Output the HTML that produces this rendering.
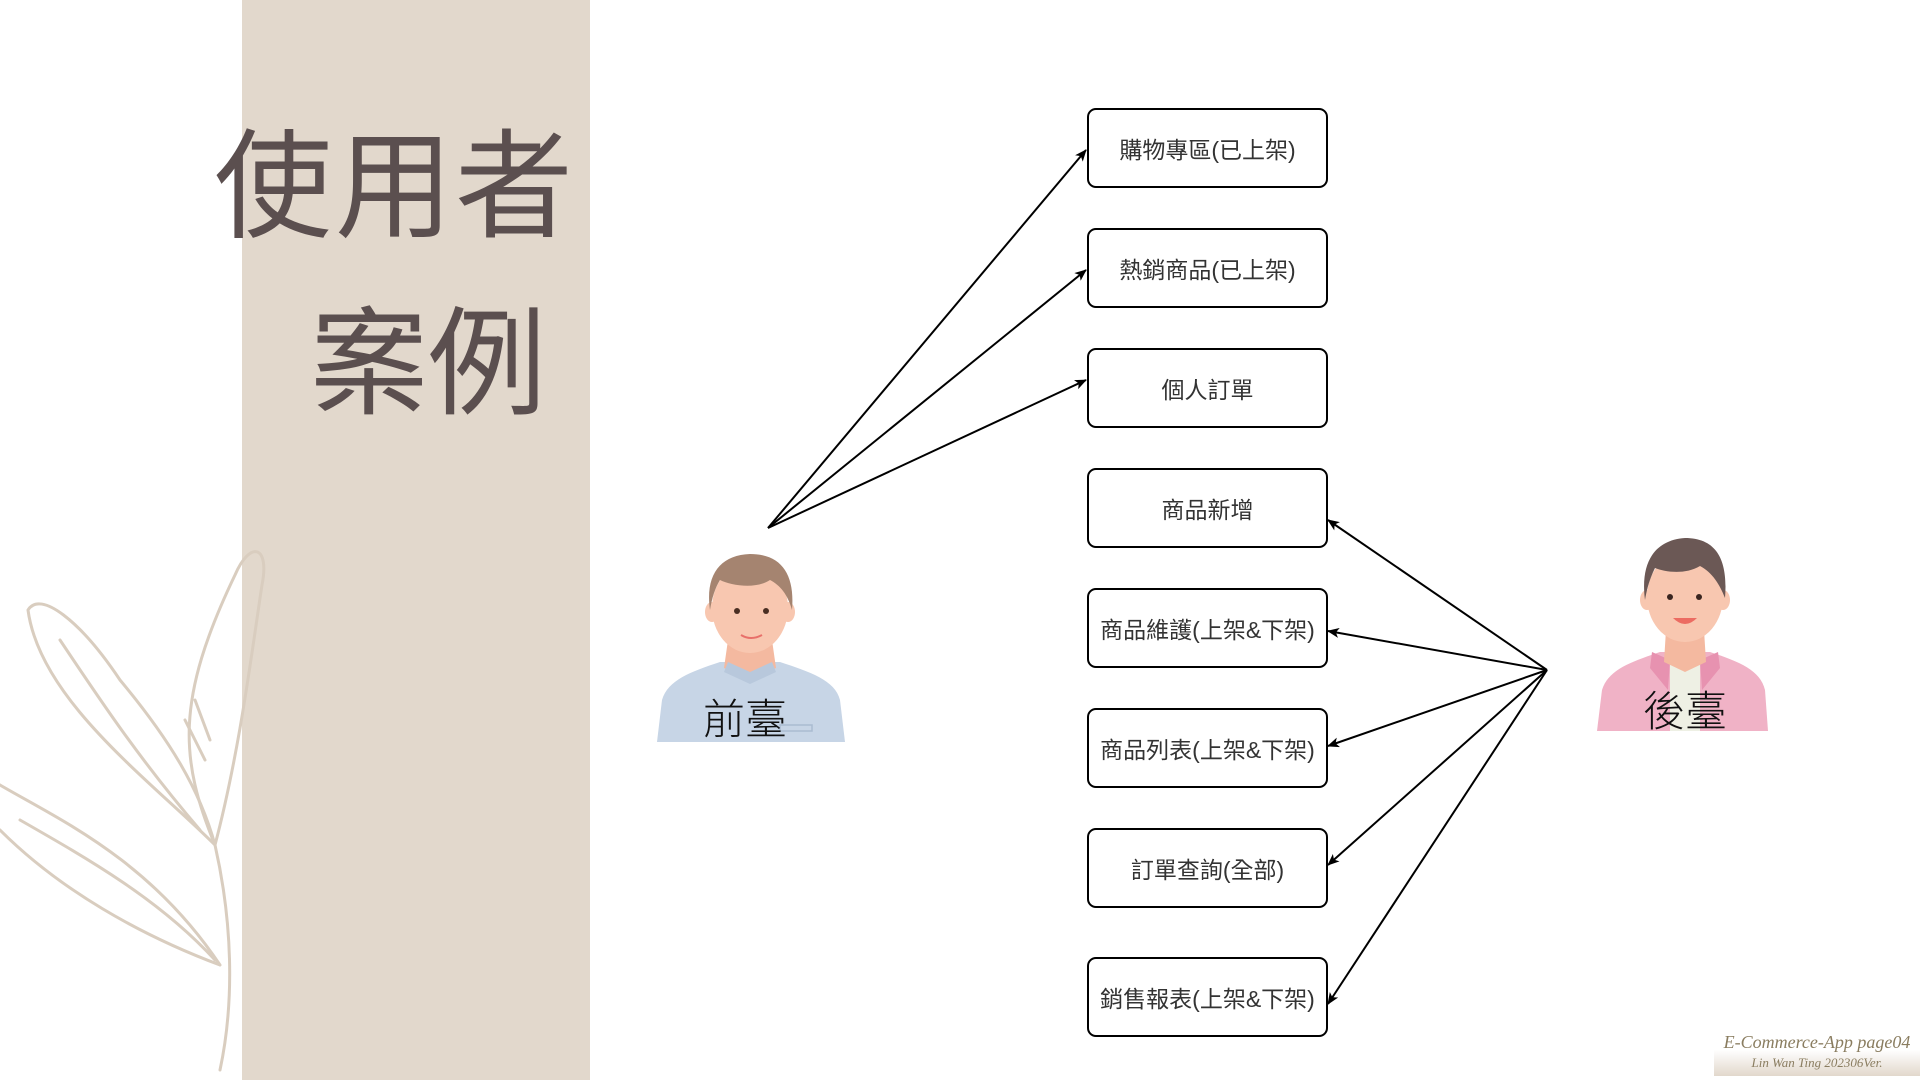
<!DOCTYPE html>
<html><head><meta charset="utf-8"><style>
html,body{margin:0;padding:0}
body{width:1920px;height:1080px;position:relative;overflow:hidden;background:#fff;font-family:"Liberation Sans","Noto Sans CJK TC",sans-serif}
.panel{position:absolute;left:242px;top:0;width:348px;height:1080px;background:#e2d8cc}
.t{position:absolute;font-family:"Noto Sans CJK TC","WenQuanYi Zen Hei",sans-serif;font-weight:400;font-size:118px;line-height:118px;color:#5b4f4f}
.box{position:absolute;left:1087px;width:237px;height:76px;border:2px solid #000;border-radius:9px;box-sizing:content-box;display:flex;align-items:center;justify-content:center;font-size:23px;color:#333;background:#fff;white-space:nowrap;font-family:"Liberation Sans","Noto Sans CJK TC",sans-serif}
.lbl{position:absolute;font-family:"Noto Sans CJK TC",sans-serif;font-size:42px;color:#111;font-weight:300}
.foot{position:absolute;left:1714px;top:1028px;width:206px;height:48px;background:linear-gradient(#fff 0%,#fff 45%,#e2d8cc 100%);font-family:"Liberation Serif",serif;font-style:italic;color:#8a7d60;text-align:center}
</style></head><body>
<div class="panel"></div>
<svg width="1920" height="1080" style="position:absolute;left:0;top:0">
<g fill="none" stroke="#d9cdbf" stroke-width="3" stroke-linecap="round">
<path d="M215,845 C150,780 40,700 28,610 C40,590 80,620 120,680 C170,740 200,790 215,845"/>
<path d="M60,640 C100,700 140,760 200,830"/>
<path d="M0,785 C60,820 150,860 220,965 M0,830 C60,890 140,935 220,965"/>
<path d="M20,820 C90,860 160,900 215,960"/>
<path d="M215,845 C180,760 175,700 235,575 C250,540 270,545 262,585 C252,650 240,750 215,845"/>
<path d="M220,1070 C235,1000 232,920 215,845"/>
<path d="M185,720 L205,760 M195,700 L210,740"/>
</g>
</svg>
<div class="t" style="left:214px;top:118px">使</div>
<div class="t" style="left:335px;top:118px">用</div>
<div class="t" style="left:455px;top:118px">者</div>
<div class="t" style="left:310px;top:295px">案</div>
<div class="t" style="left:428px;top:295px">例</div>

<div class="box" style="top:108px">購物專區(已上架)</div>
<div class="box" style="top:228px">熱銷商品(已上架)</div>
<div class="box" style="top:348px">個人訂單</div>
<div class="box" style="top:468px">商品新增</div>
<div class="box" style="top:588px">商品維護(上架&amp;下架)</div>
<div class="box" style="top:708px">商品列表(上架&amp;下架)</div>
<div class="box" style="top:828px">訂單查詢(全部)</div>
<div class="box" style="top:957px">銷售報表(上架&amp;下架)</div>

<svg width="1920" height="1080" style="position:absolute;left:0;top:0">
<defs><marker id="a" markerWidth="12" markerHeight="10" refX="11" refY="5" orient="auto" markerUnits="userSpaceOnUse"><path d="M0,0 L12,5 L0,10 L3,5 Z" fill="#000"/></marker></defs>
<g stroke="#000" stroke-width="2" fill="none" marker-end="url(#a)">
<line x1="768" y1="528" x2="1086" y2="150"/>
<line x1="768" y1="528" x2="1086" y2="270"/>
<line x1="768" y1="528" x2="1086" y2="380"/>
<line x1="1547" y1="670" x2="1328" y2="520"/>
<line x1="1547" y1="670" x2="1328" y2="631"/>
<line x1="1547" y1="670" x2="1328" y2="746"/>
<line x1="1547" y1="670" x2="1328" y2="865"/>
<line x1="1547" y1="670" x2="1328" y2="1004"/>
</g>
<g>
<path d="M657,742 L662,700 C668,680 690,672 720,662 L780,662 C810,672 835,680 840,700 L845,742 Z" fill="#c7d5e6"/>
<path d="M728,640 L772,640 L776,668 L750,680 L724,668 Z" fill="#f4b9a0"/>
<path d="M728,662 L750,672 L772,662 L776,672 L750,684 L724,672Z" fill="#b8c8dc"/>
<ellipse cx="750" cy="608" rx="38" ry="45" fill="#f8c7b0"/>
<ellipse cx="712" cy="612" rx="7" ry="10" fill="#f8c7b0"/>
<ellipse cx="788" cy="612" rx="7" ry="10" fill="#f8c7b0"/>
<path d="M710,610 C705,575 720,555 750,554 C782,554 795,575 792,610 C788,595 780,585 770,580 C755,590 730,585 720,580 C715,588 712,598 710,610Z" fill="#a58470"/>
<circle cx="737" cy="611" r="3" fill="#4a2e22"/><circle cx="766" cy="611" r="3" fill="#4a2e22"/>
<path d="M741,635 Q751,641 762,635" stroke="#e8706a" stroke-width="2" fill="none"/>
<rect x="780" y="725" width="32" height="6" fill="none" stroke="#aabbd0" stroke-width="1.5"/>
</g>
<g>
<path d="M1597,731 L1602,690 C1608,670 1630,662 1660,652 L1710,652 C1740,662 1760,670 1765,690 L1768,731 Z" fill="#f0b2c6"/>
<path d="M1670,665 L1700,665 L1700,731 L1670,731Z" fill="#eef0e4"/>
<path d="M1652,652 L1670,660 L1668,690 L1650,668Z M1718,652 L1700,660 L1702,690 L1720,668Z" fill="#e792b0"/>
<path d="M1666,630 L1704,630 L1706,662 L1685,672 L1664,662 Z" fill="#f4b9a0"/>
<ellipse cx="1685" cy="597" rx="38" ry="45" fill="#f8c7b0"/>
<ellipse cx="1647" cy="600" rx="7" ry="10" fill="#f8c7b0"/>
<ellipse cx="1723" cy="600" rx="7" ry="10" fill="#f8c7b0"/>
<path d="M1645,600 C1640,562 1655,540 1685,538 C1718,538 1728,562 1725,598 C1720,585 1712,572 1700,566 C1685,575 1665,572 1655,568 C1650,578 1647,588 1645,600Z" fill="#6b5855"/>
<circle cx="1670" cy="597" r="3" fill="#3a2520"/><circle cx="1699" cy="597" r="3" fill="#3a2520"/>
<path d="M1673,618 Q1685,630 1697,618 Z" fill="#ec6c62"/>
</g>
</svg>
<div class="lbl" style="left:703px;top:686px">前臺</div>
<div class="lbl" style="left:1643px;top:678px">後臺</div>
<div class="foot"><div style="font-size:18px;line-height:26px;margin-top:1px">E-Commerce-App page04</div><div style="font-size:13px;line-height:16px">Lin Wan Ting 202306Ver.</div></div>
</body></html>
